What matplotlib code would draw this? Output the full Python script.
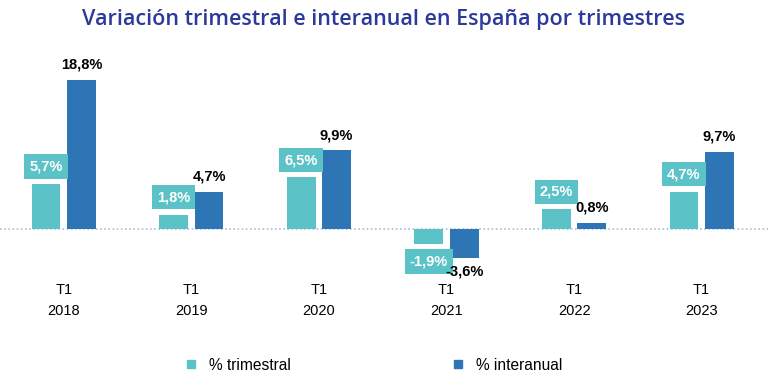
import matplotlib
matplotlib.use("Agg")
import matplotlib.pyplot as plt
from matplotlib.patches import Patch
import numpy as np

categories = ["T1\n2018", "T1\n2019", "T1\n2020", "T1\n2021", "T1\n2022", "T1\n2023"]
trimestral = [5.7, 1.8, 6.5, -1.9, 2.5, 4.7]
interanual = [18.8, 4.7, 9.9, -3.6, 0.8, 9.7]
labels_trim = ["5,7%", "1,8%", "6,5%", "-1,9%", "2,5%", "4,7%"]
labels_inter = ["18,8%", "4,7%", "9,9%", "-3,6%", "0,8%", "9,7%"]

c_light = "#5bc2c8"
c_dark = "#2e75b6"

plt.rcParams['font.family'] = ['Liberation Sans', 'DejaVu Sans']

W, H = 768, 381
fig = plt.figure(figsize=(W/100, H/100), dpi=100)
top_px, bot_px = 60, 275
ax = fig.add_axes([0, 1 - bot_px/H, 1, (bot_px - top_px)/H])
ax.set_xlim(-0.5, 5.52)
scale = 7.93
ax.set_ylim(-(bot_px - 229)/scale, (229 - top_px)/scale)

x = np.arange(len(categories))
bw = 0.225
off = 0.139
ax.bar(x - off, trimestral, bw, color=c_light, zorder=3)
ax.bar(x + off, interanual, bw, color=c_dark, zorder=3)
ax.axhline(0, color="#a9bfd6", lw=1.2, ls=(0, (1, 1.5)), zorder=2)

for xi, v, t in zip(x, trimestral, labels_trim):
    dy = 12.5 if v >= 0 else -12.5
    ax.annotate(t, (xi - off, v), xytext=(0, dy), textcoords="offset points",
                ha="center", va="center", color="white", fontsize=10.5, fontweight="bold",
                bbox=dict(boxstyle="square,pad=0.35", fc=c_light, ec="none"), zorder=5)
for xi, v, t in zip(x, interanual, labels_inter):
    dy = 11 if v >= 0 else -10
    ax.annotate(t, (xi + off, v), xytext=(0, dy), textcoords="offset points",
                ha="center", va="center", color="black", fontsize=10.5, fontweight="bold", zorder=5)

ax.set_xticks(x)
ax.set_xticklabels(categories, fontsize=10.5, linespacing=1.6)
ax.tick_params(axis="x", length=0, pad=6)
ax.set_yticks([])
for s in ax.spines.values():
    s.set_visible(False)

fig.text(0.5, 1 - 19/H, "Variación trimestral e interanual en España por trimestres",
         ha="center", va="center", fontsize=15.5, fontweight="semibold", color="#2b3a9a",
         family=["Open Sans", "DejaVu Sans"])

handles = [Patch(color=c_light, label="% trimestral"), Patch(color=c_dark, label="% interanual")]
fig.legend(handles=handles, loc="center", bbox_to_anchor=(0.488, 1 - 365/H), ncol=2,
           frameon=False, fontsize=11.2, handlelength=0.5, handleheight=0.5,
           handletextpad=0.9, columnspacing=10.5)

fig.savefig("out.png", dpi=100)
